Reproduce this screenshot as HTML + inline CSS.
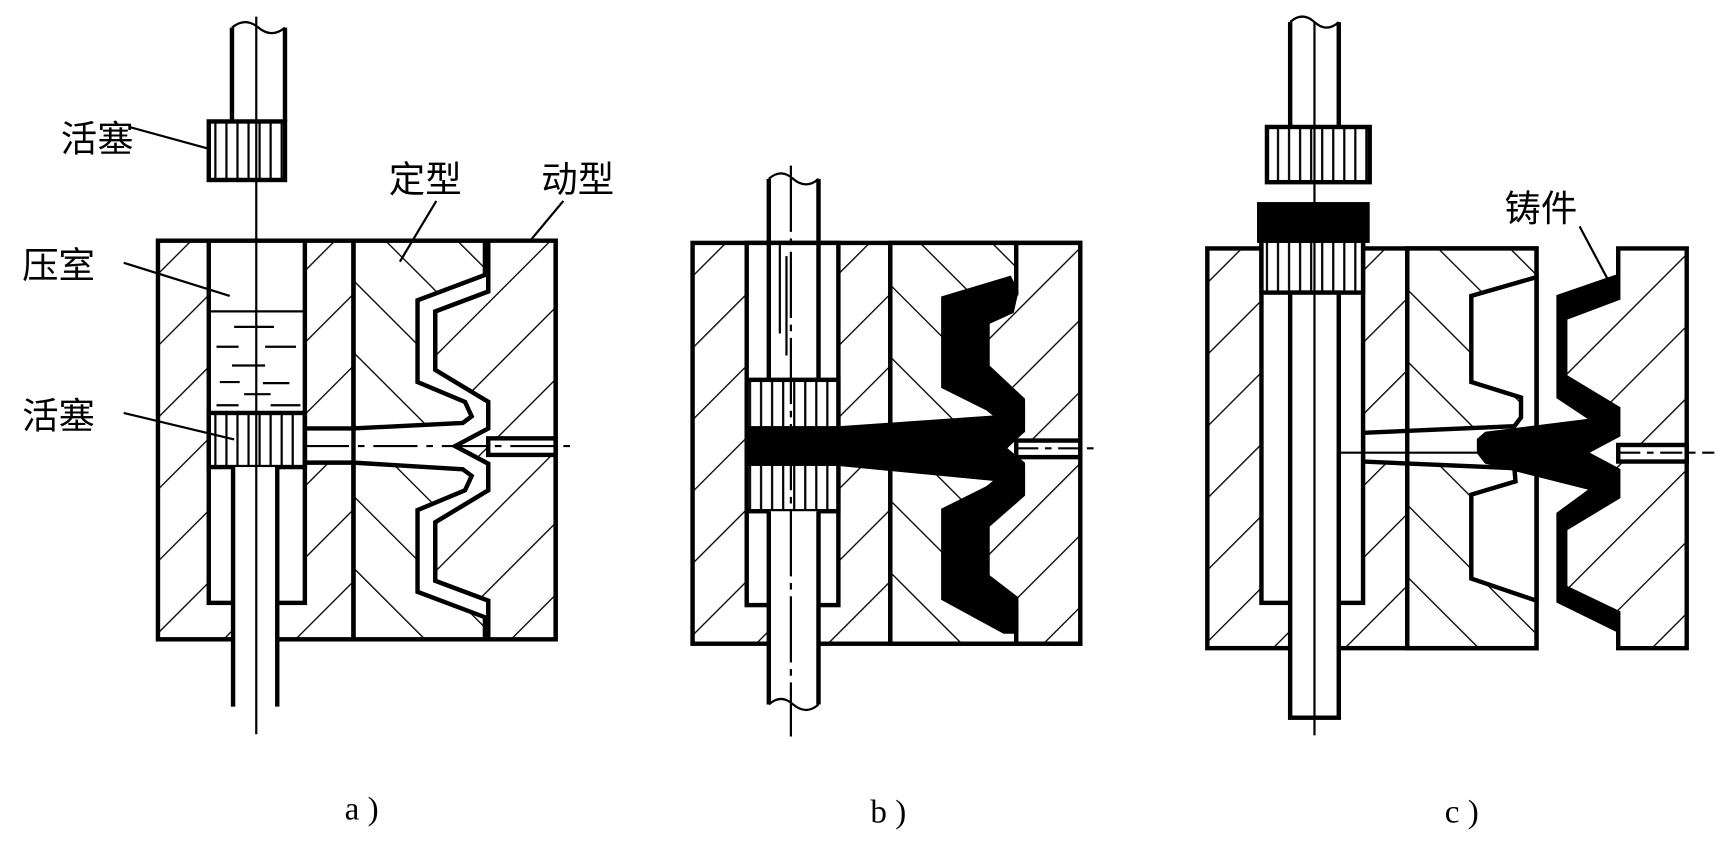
<!DOCTYPE html>
<html><head><meta charset="utf-8"><style>
html,body{margin:0;padding:0;background:#fff;width:1732px;height:848px;overflow:hidden}
svg{display:block}
text{font-family:"Liberation Sans","Noto Sans CJK SC",sans-serif;font-size:33px;fill:#000}
</style></head><body>
<svg width="1732" height="848" viewBox="0 0 1568 768" preserveAspectRatio="none" xmlns="http://www.w3.org/2000/svg">
<defs>
<pattern id="h1" width="46" height="46" patternUnits="userSpaceOnUse" patternTransform="rotate(45)"><rect width="46" height="46" fill="#fff"/><line x1="0" y1="0" x2="0" y2="46" stroke="#000" stroke-width="2.4"/></pattern>
<pattern id="h2" width="46" height="46" patternUnits="userSpaceOnUse" patternTransform="rotate(-45)"><rect width="46" height="46" fill="#fff"/><line x1="0" y1="0" x2="0" y2="46" stroke="#000" stroke-width="2.4"/></pattern>
<pattern id="v" width="10" height="10" patternUnits="userSpaceOnUse"><rect width="10" height="10" fill="#fff"/><line x1="5" y1="0" x2="5" y2="10" stroke="#000" stroke-width="2"/></pattern>
</defs>

<!-- ========== PANEL A ========== -->
<g stroke="#000" stroke-width="4" stroke-linejoin="miter">
<rect x="143" y="218" width="360" height="361" fill="url(#h1)"/>
<rect x="320" y="218" width="122" height="361" fill="url(#h2)"/>
<polygon fill="url(#h1)" points="442,218 503,218 503,579 442,579 442,544 394,526 394,473 442,444 442,420 412,404 442,388 442,364 394,335 394,282 442,264"/>
<polygon fill="#fff" points="439,218 439,249 378,272 378,346 421,364 427,377 419,383 320,388 276,388 276,419 320,419 419,425 427,431 421,444 378,462 378,536 439,559 439,579 442,579 442,544 394,526 394,473 442,444 442,420 412,404 442,388 442,364 394,335 394,282 442,264 442,218"/>
<rect x="442" y="397" width="61" height="15" fill="#fff"/>
<line x1="320" y1="218" x2="320" y2="579"/>
<rect x="189" y="218" width="87" height="328" fill="#fff"/>
<rect x="189" y="374" width="87" height="49" fill="url(#v)"/>
<rect x="211" y="423" width="40" height="220" fill="#fff" stroke="none"/>
<line x1="211" y1="423" x2="211" y2="640"/><line x1="251" y1="423" x2="251" y2="640"/>
<line x1="189" y1="282" x2="276" y2="282" stroke-width="2"/>
<rect x="189" y="110" width="69" height="53" fill="url(#v)"/>
<line x1="210" y1="25" x2="210" y2="110"/><line x1="258" y1="25" x2="258" y2="110"/>
</g>
<path d="M210 25 Q222 15 234 25 Q246 35 258 25" fill="none" stroke="#000" stroke-width="2"/>
<g stroke="#000" stroke-width="2">
<line x1="212" y1="296" x2="248" y2="296"/><line x1="196" y1="314" x2="216" y2="314"/><line x1="240" y1="314" x2="268" y2="314"/>
<line x1="210" y1="331" x2="240" y2="331"/><line x1="199" y1="346" x2="217" y2="346"/><line x1="238" y1="347" x2="262" y2="347"/>
<line x1="221" y1="357" x2="245" y2="357"/><line x1="196" y1="367" x2="216" y2="367"/><line x1="245" y1="367" x2="272" y2="367"/>
<line x1="232" y1="15" x2="232" y2="665"/>
<line x1="276" y1="404" x2="520" y2="404" stroke-dasharray="40,8,6,8"/>
<line x1="190" y1="135" x2="117" y2="115"/><line x1="208" y1="268" x2="112" y2="238"/><line x1="212" y1="398" x2="112" y2="374"/>
<line x1="395" y1="182" x2="362" y2="237"/><line x1="510" y1="182" x2="480" y2="218"/>
</g>
<text x="55" y="137">活塞</text><text x="20" y="252">压室</text><text x="20" y="388">活塞</text>
<text x="352" y="174">定型</text><text x="490" y="174">动型</text>

<!-- ========== PANEL B ========== -->
<g transform="translate(484,2)">
<g stroke="#000" stroke-width="4">
<rect x="143" y="218" width="351" height="363" fill="url(#h1)"/>
<rect x="322" y="218" width="114" height="363" fill="url(#h2)"/>
<polygon fill="url(#h1)" points="436,218 494,218 494,581 436,581 436,544 394,526 394,473 442,444 442,420 412,404 442,388 442,364 394,335 394,282 436,264"/>
<polygon fill="#000" points="430,250 436,262 432,280 410,290 410,330 442,360 442,388 425,404 442,418 442,446 410,474 410,520 436,540 436,570 425,570 370,540 370,460 410,440 420,432 275,418 275,386 420,376 410,368 370,348 370,268"/>
<rect x="436" y="397" width="58" height="15" fill="#fff"/>
<line x1="322" y1="218" x2="322" y2="581"/>
<rect x="192" y="218" width="83" height="328" fill="#fff"/>
<rect x="192" y="342" width="83" height="44" fill="url(#v)"/>
<rect x="192" y="386" width="83" height="32" fill="#000"/>
<rect x="192" y="418" width="83" height="43" fill="url(#v)"/>
<rect x="212" y="461" width="45" height="180" fill="#fff" stroke="none"/>
<line x1="212" y1="160" x2="212" y2="342"/><line x1="257" y1="160" x2="257" y2="342"/>
<line x1="212" y1="461" x2="212" y2="636"/><line x1="257" y1="461" x2="257" y2="636"/>
</g>
<path d="M212 160 Q223 150 234 160 Q246 170 257 160" fill="none" stroke="#000" stroke-width="2"/>
<path d="M212 636 Q223 626 234 636 Q246 646 257 636" fill="none" stroke="#000" stroke-width="2"/>
<g stroke="#000" stroke-width="2">
<line x1="222" y1="220" x2="222" y2="300"/><line x1="228" y1="230" x2="228" y2="320"/>
<line x1="232" y1="148" x2="232" y2="665" stroke-dasharray="60,6,6,6"/>
<line x1="436" y1="404" x2="506" y2="404" stroke-dasharray="20,6,6,6"/>
</g>
</g>

<!-- ========== PANEL C ========== -->
<g transform="translate(952,6)">
<g stroke="#000" stroke-width="4">
<rect x="141" y="219" width="298" height="362" fill="url(#h1)"/>
<rect x="322" y="219" width="117" height="362" fill="url(#h2)"/>
<polygon fill="#fff" points="439,245 380,262 380,340 425,354 425,372 419,380 282,386 282,412 419,418 420,430 380,442 380,518 439,538"/>
<line x1="322" y1="219" x2="322" y2="581"/>
<rect x="190" y="212" width="92" height="328" fill="#fff"/>
<rect x="190" y="212" width="92" height="47" fill="url(#v)"/>
<rect x="188" y="179" width="98" height="33" fill="#000"/>
<rect x="195" y="109" width="93" height="50" fill="url(#v)"/>
<rect x="216" y="259" width="44" height="385" fill="#fff"/>
</g>
<g stroke="#000" stroke-width="2">
<line x1="238" y1="14" x2="238" y2="660"/>
<line x1="216" y1="14" x2="216" y2="109" stroke-width="4"/><line x1="260" y1="14" x2="260" y2="109" stroke-width="4"/>
</g>
<path d="M216 14 Q227 4 238 14 Q249 24 260 14" fill="none" stroke="#000" stroke-width="2"/>
</g>
<!-- moving die c -->
<g stroke="#000" stroke-width="4">
<polygon fill="url(#h1)" points="1465,225 1527,225 1527,587 1465,587 1465,555 1417,532 1417,479 1465,450 1465,426 1435,410 1465,394 1465,370 1417,341 1417,288 1465,270"/>
<polygon fill="#000" stroke-width="2" points="1462,250 1465,270 1417,288 1417,341 1465,370 1465,394 1435,410 1465,426 1465,450 1417,479 1417,532 1465,555 1465,572 1410,545 1410,465 1440,443 1345,419 1338,410 1338,398 1345,392 1440,380 1410,360 1410,268"/>
<rect x="1465" y="403" width="62" height="15" fill="#fff"/>
</g>
<g stroke="#000" stroke-width="2">
<line x1="1212" y1="410" x2="1345" y2="410"/>
<line x1="1465" y1="410" x2="1552" y2="410" stroke-dasharray="20,6,6,6"/>
<line x1="1430" y1="205" x2="1455" y2="252"/>
</g>
<text x="1362" y="200">铸件</text>

<text x="312" y="742" style="font-family:'Liberation Serif',serif;font-size:30px">a )</text>
<text x="788" y="745" style="font-family:'Liberation Serif',serif;font-size:30px">b )</text>
<text x="1308" y="745" style="font-family:'Liberation Serif',serif;font-size:30px">c )</text>
</svg>
</body></html>
